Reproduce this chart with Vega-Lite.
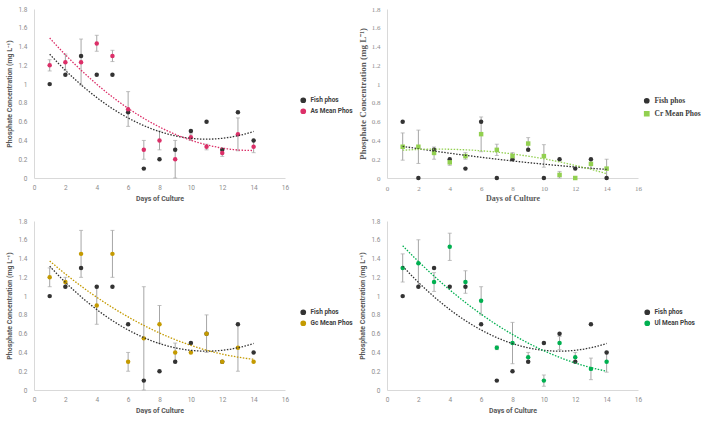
{
  "$schema": "https://vega.github.io/schema/vega-lite/v6.json",
  "padding": {"left": 5, "top": 5, "right": 0, "bottom": 0},
  "background": "white",
  "data": {"values": [
    {"panel":1,"series":"Fish phos","day":1,"value":1.0},
    {"panel":1,"series":"Fish phos","day":2,"value":1.1},
    {"panel":1,"series":"Fish phos","day":3,"value":1.3},
    {"panel":1,"series":"Fish phos","day":4,"value":1.1},
    {"panel":1,"series":"Fish phos","day":5,"value":1.1},
    {"panel":1,"series":"Fish phos","day":6,"value":0.7},
    {"panel":1,"series":"Fish phos","day":7,"value":0.1},
    {"panel":1,"series":"Fish phos","day":8,"value":0.2},
    {"panel":1,"series":"Fish phos","day":9,"value":0.3},
    {"panel":1,"series":"Fish phos","day":10,"value":0.5},
    {"panel":1,"series":"Fish phos","day":11,"value":0.6},
    {"panel":1,"series":"Fish phos","day":12,"value":0.3},
    {"panel":1,"series":"Fish phos","day":13,"value":0.7},
    {"panel":1,"series":"Fish phos","day":14,"value":0.4},
    {"panel":1,"series":"As Mean Phos","day":1,"value":1.2,"lo":1.14,"hi":1.26},
    {"panel":1,"series":"As Mean Phos","day":2,"value":1.233,"lo":1.15,"hi":1.32},
    {"panel":1,"series":"As Mean Phos","day":3,"value":1.233,"lo":0.99,"hi":1.48},
    {"panel":1,"series":"As Mean Phos","day":4,"value":1.433,"lo":1.35,"hi":1.52},
    {"panel":1,"series":"As Mean Phos","day":5,"value":1.3,"lo":1.24,"hi":1.36},
    {"panel":1,"series":"As Mean Phos","day":6,"value":0.733,"lo":0.55,"hi":0.92},
    {"panel":1,"series":"As Mean Phos","day":7,"value":0.3,"lo":0.2,"hi":0.4},
    {"panel":1,"series":"As Mean Phos","day":8,"value":0.4,"lo":0.3,"hi":0.5},
    {"panel":1,"series":"As Mean Phos","day":9,"value":0.2,"lo":0.0,"hi":0.4},
    {"panel":1,"series":"As Mean Phos","day":10,"value":0.433,"lo":0.4,"hi":0.47},
    {"panel":1,"series":"As Mean Phos","day":11,"value":0.333,"lo":0.3,"hi":0.36},
    {"panel":1,"series":"As Mean Phos","day":12,"value":0.267,"lo":0.23,"hi":0.3},
    {"panel":1,"series":"As Mean Phos","day":13,"value":0.467,"lo":0.29,"hi":0.64},
    {"panel":1,"series":"As Mean Phos","day":14,"value":0.333,"lo":0.27,"hi":0.4},

    {"panel":2,"series":"Fish phos","day":1,"value":0.6},
    {"panel":2,"series":"Fish phos","day":2,"value":0.0},
    {"panel":2,"series":"Fish phos","day":3,"value":0.3},
    {"panel":2,"series":"Fish phos","day":4,"value":0.2},
    {"panel":2,"series":"Fish phos","day":5,"value":0.1},
    {"panel":2,"series":"Fish phos","day":6,"value":0.6},
    {"panel":2,"series":"Fish phos","day":7,"value":0.0},
    {"panel":2,"series":"Fish phos","day":8,"value":0.2},
    {"panel":2,"series":"Fish phos","day":9,"value":0.3},
    {"panel":2,"series":"Fish phos","day":10,"value":0.0},
    {"panel":2,"series":"Fish phos","day":11,"value":0.2},
    {"panel":2,"series":"Fish phos","day":12,"value":0.1},
    {"panel":2,"series":"Fish phos","day":13,"value":0.2},
    {"panel":2,"series":"Fish phos","day":14,"value":0.0},
    {"panel":2,"series":"Cr Mean Phos","day":1,"value":0.333,"lo":0.19,"hi":0.48},
    {"panel":2,"series":"Cr Mean Phos","day":2,"value":0.333,"lo":0.155,"hi":0.51},
    {"panel":2,"series":"Cr Mean Phos","day":3,"value":0.267,"lo":0.2,"hi":0.33},
    {"panel":2,"series":"Cr Mean Phos","day":4,"value":0.167,"lo":0.135,"hi":0.2},
    {"panel":2,"series":"Cr Mean Phos","day":5,"value":0.233,"lo":0.2,"hi":0.27},
    {"panel":2,"series":"Cr Mean Phos","day":6,"value":0.467,"lo":0.28,"hi":0.65},
    {"panel":2,"series":"Cr Mean Phos","day":7,"value":0.3,"lo":0.24,"hi":0.36},
    {"panel":2,"series":"Cr Mean Phos","day":8,"value":0.233,"lo":0.2,"hi":0.27},
    {"panel":2,"series":"Cr Mean Phos","day":9,"value":0.367,"lo":0.3,"hi":0.43},
    {"panel":2,"series":"Cr Mean Phos","day":10,"value":0.233,"lo":0.115,"hi":0.355},
    {"panel":2,"series":"Cr Mean Phos","day":11,"value":0.033,"lo":0.0,"hi":0.07},
    {"panel":2,"series":"Cr Mean Phos","day":12,"value":0.0},
    {"panel":2,"series":"Cr Mean Phos","day":13,"value":0.15,"lo":0.1,"hi":0.2},
    {"panel":2,"series":"Cr Mean Phos","day":14,"value":0.1,"lo":0.0,"hi":0.2},

    {"panel":3,"series":"Fish phos","day":1,"value":1.0},
    {"panel":3,"series":"Fish phos","day":2,"value":1.1},
    {"panel":3,"series":"Fish phos","day":3,"value":1.3},
    {"panel":3,"series":"Fish phos","day":4,"value":1.1},
    {"panel":3,"series":"Fish phos","day":5,"value":1.1},
    {"panel":3,"series":"Fish phos","day":6,"value":0.7},
    {"panel":3,"series":"Fish phos","day":7,"value":0.1},
    {"panel":3,"series":"Fish phos","day":8,"value":0.2},
    {"panel":3,"series":"Fish phos","day":9,"value":0.3},
    {"panel":3,"series":"Fish phos","day":10,"value":0.5},
    {"panel":3,"series":"Fish phos","day":11,"value":0.6},
    {"panel":3,"series":"Fish phos","day":12,"value":0.3},
    {"panel":3,"series":"Fish phos","day":13,"value":0.7},
    {"panel":3,"series":"Fish phos","day":14,"value":0.4},
    {"panel":3,"series":"Gc Mean Phos","day":1,"value":1.2,"lo":1.1,"hi":1.3},
    {"panel":3,"series":"Gc Mean Phos","day":2,"value":1.15,"lo":1.1,"hi":1.2},
    {"panel":3,"series":"Gc Mean Phos","day":3,"value":1.45,"lo":1.2,"hi":1.7},
    {"panel":3,"series":"Gc Mean Phos","day":4,"value":0.9,"lo":0.7,"hi":1.1},
    {"panel":3,"series":"Gc Mean Phos","day":5,"value":1.45,"lo":1.2,"hi":1.7},
    {"panel":3,"series":"Gc Mean Phos","day":6,"value":0.3,"lo":0.2,"hi":0.4},
    {"panel":3,"series":"Gc Mean Phos","day":7,"value":0.55,"lo":0.0,"hi":1.1},
    {"panel":3,"series":"Gc Mean Phos","day":8,"value":0.7,"lo":0.5,"hi":0.9},
    {"panel":3,"series":"Gc Mean Phos","day":9,"value":0.4,"lo":0.3,"hi":0.5},
    {"panel":3,"series":"Gc Mean Phos","day":10,"value":0.4},
    {"panel":3,"series":"Gc Mean Phos","day":11,"value":0.6,"lo":0.4,"hi":0.8},
    {"panel":3,"series":"Gc Mean Phos","day":12,"value":0.3},
    {"panel":3,"series":"Gc Mean Phos","day":13,"value":0.45,"lo":0.2,"hi":0.7},
    {"panel":3,"series":"Gc Mean Phos","day":14,"value":0.3},

    {"panel":4,"series":"Fish phos","day":1,"value":1.0},
    {"panel":4,"series":"Fish phos","day":2,"value":1.1},
    {"panel":4,"series":"Fish phos","day":3,"value":1.3},
    {"panel":4,"series":"Fish phos","day":4,"value":1.1},
    {"panel":4,"series":"Fish phos","day":5,"value":1.1},
    {"panel":4,"series":"Fish phos","day":6,"value":0.7},
    {"panel":4,"series":"Fish phos","day":7,"value":0.1},
    {"panel":4,"series":"Fish phos","day":8,"value":0.2},
    {"panel":4,"series":"Fish phos","day":9,"value":0.3},
    {"panel":4,"series":"Fish phos","day":10,"value":0.5},
    {"panel":4,"series":"Fish phos","day":11,"value":0.6},
    {"panel":4,"series":"Fish phos","day":12,"value":0.3},
    {"panel":4,"series":"Fish phos","day":13,"value":0.7},
    {"panel":4,"series":"Fish phos","day":14,"value":0.4},
    {"panel":4,"series":"Ul Mean Phos","day":1,"value":1.3,"lo":1.15,"hi":1.45},
    {"panel":4,"series":"Ul Mean Phos","day":2,"value":1.35,"lo":1.1,"hi":1.6},
    {"panel":4,"series":"Ul Mean Phos","day":3,"value":1.15,"lo":1.05,"hi":1.25},
    {"panel":4,"series":"Ul Mean Phos","day":4,"value":1.525,"lo":1.38,"hi":1.67},
    {"panel":4,"series":"Ul Mean Phos","day":5,"value":1.15,"lo":1.03,"hi":1.27},
    {"panel":4,"series":"Ul Mean Phos","day":6,"value":0.95,"lo":0.8,"hi":1.1},
    {"panel":4,"series":"Ul Mean Phos","day":7,"value":0.45,"lo":0.43,"hi":0.47},
    {"panel":4,"series":"Ul Mean Phos","day":8,"value":0.5,"lo":0.28,"hi":0.72},
    {"panel":4,"series":"Ul Mean Phos","day":9,"value":0.35,"lo":0.3,"hi":0.4},
    {"panel":4,"series":"Ul Mean Phos","day":10,"value":0.1,"lo":0.04,"hi":0.16},
    {"panel":4,"series":"Ul Mean Phos","day":11,"value":0.5,"lo":0.43,"hi":0.57},
    {"panel":4,"series":"Ul Mean Phos","day":12,"value":0.35,"lo":0.3,"hi":0.4},
    {"panel":4,"series":"Ul Mean Phos","day":13,"value":0.225,"lo":0.11,"hi":0.34},
    {"panel":4,"series":"Ul Mean Phos","day":14,"value":0.3,"lo":0.19,"hi":0.41}
  ]},
  "config": {
    "view": {"stroke": null},
    "axis": {"grid": false, "ticks": false, "domainColor": "#d9d9d9", "labelColor": "#8c8c8c", "labelFontSize": 6.5, "titleFontSize": 7, "titleFontWeight": "bold", "titleColor": "#595959", "labelFont": "Roboto", "titleFont": "Roboto", "labelOverlap": false, "labelFlush": false, "labelBound": false},
    "axisX": {"labelPadding": 6, "titlePadding": 4, "tickCount": 9},
    "axisY": {"labelPadding": 7, "titlePadding": 5, "tickCount": 10},
    "legend": {"orient": "none", "title": null, "symbolSize": 18, "symbolType": "circle", "labelFontSize": 6.5, "labelFont": "Roboto", "labelColor": "#404040", "labelFontWeight": "bold", "rowPadding": 0, "padding": 0}
  },
  "resolve": {"scale": {"color": "independent", "shape": "independent", "x": "independent", "y": "independent"}, "legend": {"color": "independent", "shape": "independent"}},
  "columns": 2,
  "spacing": {"row": 43, "column": 102},
  "bounds": "flush",
  "concat": [
        {
          "width": 251, "height": 169,
          "transform": [{"filter": "datum.panel == 1"}],
          "layer": [
            {"transform": [{"filter": "isValid(datum.lo)"}],
             "mark": {"type": "errorbar", "ticks": {"color": "#a6a6a6", "size": 4}, "rule": {"color": "#a6a6a6", "strokeWidth": 1}},
             "encoding": {
               "x": {"field": "day", "type": "quantitative", "scale": {"domain": [0, 16], "nice": false}, "axis": {"title": "Days of Culture", "values": [0,2,4,6,8,10,12,14,16], "tickCount": 9, "labelOverlap": false}},
               "y": {"field": "lo", "type": "quantitative", "scale": {"domain": [0, 1.8], "nice": false}, "axis": {"title": "Phosphate Concentration (mg L⁻¹)", "values": [0,0.2,0.4,0.6,0.8,1,1.2,1.4,1.6,1.8], "tickCount": 10, "format": "~g", "labelOverlap": false}},
               "y2": {"field": "hi"}}},
            {"mark": {"type": "point", "filled": true, "size": 20, "opacity": 1},
             "encoding": {
               "x": {"field": "day", "type": "quantitative"},
               "y": {"field": "value", "type": "quantitative"},
               "color": {"field": "series", "type": "nominal", "scale": {"domain": ["Fish phos", "As Mean Phos"], "range": ["#333333", "#dc2f68"]}, "legend": {"legendX": 266, "legendY": 88}}}},
            {"transform": [{"regression": "value", "on": "day", "method": "poly", "order": 2, "groupby": ["series"], "extent": [1, 14]}],
             "mark": {"type": "line", "strokeDash": [1.5, 1.5], "strokeWidth": 1.3},
             "encoding": {
               "x": {"field": "day", "type": "quantitative"},
               "y": {"field": "value", "type": "quantitative"},
               "color": {"field": "series", "type": "nominal", "legend": {"legendX": 266, "legendY": 88}}}}
          ]
        },
        {
          "width": 251, "height": 169,
          "transform": [{"filter": "datum.panel == 2"}],
          "layer": [
            {"transform": [{"filter": "isValid(datum.lo)"}],
             "mark": {"type": "errorbar", "ticks": {"color": "#a6a6a6", "size": 4}, "rule": {"color": "#a6a6a6", "strokeWidth": 1}},
             "encoding": {
               "x": {"field": "day", "type": "quantitative", "scale": {"domain": [0, 16], "nice": false}, "axis": {"title": "Days of Culture", "values": [0,2,4,6,8,10,12,14,16], "tickCount": 9, "labelOverlap": false, "titleFont": "Liberation Serif", "titleFontSize": 8, "labelFont": "Liberation Serif", "labelFontSize": 7, "titlePadding": 3}},
               "y": {"field": "lo", "type": "quantitative", "scale": {"domain": [0, 1.8], "nice": false}, "axis": {"title": "Phosphate Concentration (mg L⁻¹)", "values": [0,0.2,0.4,0.6,0.8,1,1.2,1.4,1.6,1.8], "tickCount": 10, "format": "~g", "labelOverlap": false, "titleFont": "Liberation Serif", "titleFontSize": 9, "labelFont": "Liberation Serif", "labelFontSize": 7, "titlePadding": 4}},
               "y2": {"field": "hi"}}},
            {"mark": {"type": "point", "filled": true, "size": 20, "opacity": 1},
             "encoding": {
               "x": {"field": "day", "type": "quantitative"},
               "y": {"field": "value", "type": "quantitative"},
               "color": {"field": "series", "type": "nominal", "scale": {"domain": ["Fish phos", "Cr Mean Phos"], "range": ["#333333", "#92d050"]}, "legend": {"legendX": 256, "legendY": 88, "labelFont": "Liberation Serif", "labelFontSize": 7.5, "rowPadding": 2}},
               "shape": {"field": "series", "type": "nominal", "scale": {"domain": ["Fish phos", "Cr Mean Phos"], "range": ["circle", "square"]}, "legend": {"legendX": 256, "legendY": 88, "labelFont": "Liberation Serif", "labelFontSize": 7.5, "rowPadding": 2}}}},
            {"transform": [{"regression": "value", "on": "day", "method": "poly", "order": 2, "groupby": ["series"], "extent": [1, 14]}],
             "mark": {"type": "line", "strokeDash": [1.5, 1.5], "strokeWidth": 1.3},
             "encoding": {
               "x": {"field": "day", "type": "quantitative"},
               "y": {"field": "value", "type": "quantitative"},
               "color": {"field": "series", "type": "nominal", "legend": {"legendX": 256, "legendY": 88, "labelFont": "Liberation Serif", "labelFontSize": 7.5, "rowPadding": 2}}}}
          ]
        },
        {
          "width": 251, "height": 169,
          "transform": [{"filter": "datum.panel == 3"}],
          "layer": [
            {"transform": [{"filter": "isValid(datum.lo)"}],
             "mark": {"type": "errorbar", "ticks": {"color": "#a6a6a6", "size": 4}, "rule": {"color": "#a6a6a6", "strokeWidth": 1}},
             "encoding": {
               "x": {"field": "day", "type": "quantitative", "scale": {"domain": [0, 16], "nice": false}, "axis": {"title": "Days of Culture", "values": [0,2,4,6,8,10,12,14,16], "tickCount": 9, "labelOverlap": false}},
               "y": {"field": "lo", "type": "quantitative", "scale": {"domain": [0, 1.8], "nice": false}, "axis": {"title": "Phosphate Concentration (mg L⁻¹)", "values": [0,0.2,0.4,0.6,0.8,1,1.2,1.4,1.6,1.8], "tickCount": 10, "format": "~g", "labelOverlap": false}},
               "y2": {"field": "hi"}}},
            {"mark": {"type": "point", "filled": true, "size": 20, "opacity": 1},
             "encoding": {
               "x": {"field": "day", "type": "quantitative"},
               "y": {"field": "value", "type": "quantitative"},
               "color": {"field": "series", "type": "nominal", "scale": {"domain": ["Fish phos", "Gc Mean Phos"], "range": ["#333333", "#c49a00"]}, "legend": {"legendX": 266, "legendY": 88}}}},
            {"transform": [{"regression": "value", "on": "day", "method": "poly", "order": 2, "groupby": ["series"], "extent": [1, 14]}],
             "mark": {"type": "line", "strokeDash": [1.5, 1.5], "strokeWidth": 1.3},
             "encoding": {
               "x": {"field": "day", "type": "quantitative"},
               "y": {"field": "value", "type": "quantitative"},
               "color": {"field": "series", "type": "nominal", "legend": {"legendX": 266, "legendY": 88}}}}
          ]
        },
        {
          "width": 251, "height": 169,
          "transform": [{"filter": "datum.panel == 4"}],
          "layer": [
            {"transform": [{"filter": "isValid(datum.lo)"}],
             "mark": {"type": "errorbar", "ticks": {"color": "#a6a6a6", "size": 4}, "rule": {"color": "#a6a6a6", "strokeWidth": 1}},
             "encoding": {
               "x": {"field": "day", "type": "quantitative", "scale": {"domain": [0, 16], "nice": false}, "axis": {"title": "Days of Culture", "values": [0,2,4,6,8,10,12,14,16], "tickCount": 9, "labelOverlap": false}},
               "y": {"field": "lo", "type": "quantitative", "scale": {"domain": [0, 1.8], "nice": false}, "axis": {"title": "Phosphate Concentration (mg L⁻¹)", "values": [0,0.2,0.4,0.6,0.8,1,1.2,1.4,1.6,1.8], "tickCount": 10, "format": "~g", "labelOverlap": false}},
               "y2": {"field": "hi"}}},
            {"mark": {"type": "point", "filled": true, "size": 20, "opacity": 1},
             "encoding": {
               "x": {"field": "day", "type": "quantitative"},
               "y": {"field": "value", "type": "quantitative"},
               "color": {"field": "series", "type": "nominal", "scale": {"domain": ["Fish phos", "Ul Mean Phos"], "range": ["#333333", "#00b050"]}, "legend": {"legendX": 257, "legendY": 88}}}},
            {"transform": [{"regression": "value", "on": "day", "method": "poly", "order": 2, "groupby": ["series"], "extent": [1, 14]}],
             "mark": {"type": "line", "strokeDash": [1.5, 1.5], "strokeWidth": 1.3},
             "encoding": {
               "x": {"field": "day", "type": "quantitative"},
               "y": {"field": "value", "type": "quantitative"},
               "color": {"field": "series", "type": "nominal", "legend": {"legendX": 257, "legendY": 88}}}}
          ]
        }
  ]
}
